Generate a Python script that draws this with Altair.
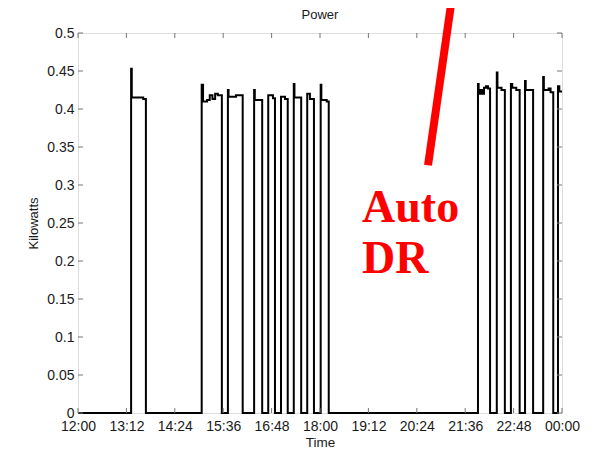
import altair as alt
import pandas as pd

# ---- data (minutes after 12:00, kilowatts) ----
pulse_minutes = [
    [79, 80, 97, 101],
    [184, 186, 192, 196, 200, 204, 208, 214],
    [223, 224, 235, 245],
    [262, 263, 274],
    [283, 290, 293],
    [302, 308, 312],
    [321, 322, 332],
    [341, 345, 351],
    [361, 362, 370, 373],
    [595, 596, 598, 601, 604, 607, 610, 613],
    [623, 624, 630, 635],
    [644, 646, 652, 657],
    [665, 666, 677],
    [692, 693, 700, 703, 707],
    [714, 716, 720],
]
pulse_kw = [
    [0.453, 0.415, 0.413, 0.0],
    [0.432, 0.410, 0.412, 0.418, 0.413, 0.420, 0.418, 0.0],
    [0.425, 0.416, 0.418, 0.0],
    [0.425, 0.412, 0.0],
    [0.418, 0.414, 0.0],
    [0.416, 0.413, 0.0],
    [0.433, 0.415, 0.0],
    [0.420, 0.413, 0.0],
    [0.432, 0.412, 0.410, 0.0],
    [0.433, 0.420, 0.425, 0.420, 0.428, 0.430, 0.427, 0.0],
    [0.448, 0.428, 0.425, 0.0],
    [0.433, 0.428, 0.425, 0.0],
    [0.437, 0.425, 0.0],
    [0.442, 0.425, 0.427, 0.422, 0.0],
    [0.430, 0.423, 0.423],
]

x_tick_minutes = [0, 72, 144, 216, 288, 360, 432, 504, 576, 648, 720]
x_tick_labels = ["12:00", "13:12", "14:24", "15:36", "16:48", "18:00",
                 "19:12", "20:24", "21:36", "22:48", "00:00"]
y_tick_values = [0, 0.05, 0.1, 0.15, 0.2, 0.25, 0.3, 0.35, 0.4, 0.45, 0.5]
y_tick_labels = ["0", "0.05", "0.1", "0.15", "0.2", "0.25", "0.3",
                 "0.35", "0.4", "0.45", "0.5"]

# annotation (red pointer line and text), in data coordinates
pointer_minutes = [558.6, 520.7]
pointer_kw = [0.5605, 0.326]
note_labels = ["Auto", "DR"]
note_minutes = [422.5, 422.5]
note_kw = [0.251, 0.184]
chart_title = "Power"

# ---- build tables ----
mins = [0]
kws = [0.0]
for tt, vv in zip(pulse_minutes, pulse_kw):
    mins.extend(tt)
    kws.extend(vv)
power = pd.DataFrame({"minute": mins, "kw": kws})

W, H = 484, 380
FONT = "Liberation Sans"
BOX = "#777777"
TXT = "#1a1a1a"

xlab = "[" + ",".join(f"'{s}'" for s in x_tick_labels) + "]"
ylab = "[" + ",".join(f"'{s}'" for s in y_tick_labels) + "]"

x_scale = alt.Scale(domain=[0, 720], nice=False, zero=False)
y_scale = alt.Scale(domain=[0, 0.5], nice=False)

x_axis = alt.Axis(values=x_tick_minutes, labelExpr=f"{xlab}[round(datum.value/72)]",
                  ticks=False, domain=False, grid=False, labelPadding=6,
                  labelFontSize=14, labelFont=FONT, labelColor=TXT,
                  labelFlush=False, labelOverlap=False,
                  title="Time", titleFont=FONT, titleFontSize=13.5, titleFontWeight="normal",
                  titleColor=TXT, titleY=33, titleBaseline="alphabetic")
y_axis = alt.Axis(values=y_tick_values, labelExpr=f"{ylab}[round(datum.value/0.05)]",
                  ticks=False, domain=False, grid=False, labelPadding=4,
                  labelFontSize=14, labelFont=FONT, labelColor=TXT,
                  labelFlush=False, labelOverlap=False,
                  title="Kilowatts", titleFont=FONT, titleFontSize=13, titleFontWeight="normal",
                  titleColor=TXT, titleX=-45, titleY=190, titleAngle=270,
                  titleAlign="center", titleBaseline="middle")


def X():
    return alt.X("minute:Q", scale=x_scale, axis=x_axis)


def Y():
    return alt.Y("kw:Q", scale=y_scale, axis=y_axis)


line = alt.Chart(power).mark_line(interpolate="step-after", color="black",
                                  strokeWidth=2).encode(x=X(), y=Y())

xt = pd.DataFrame({"minute": x_tick_minutes})
yt = pd.DataFrame({"kw": y_tick_values})
TL = 5
ticks_bottom = alt.Chart(xt).mark_rule(color=BOX, strokeWidth=1).encode(
    x=X(), y=alt.value(H), y2=alt.value(H - TL))
ticks_top = alt.Chart(xt).mark_rule(color=BOX, strokeWidth=1).encode(
    x=X(), y=alt.value(0), y2=alt.value(TL))
ticks_left = alt.Chart(yt).mark_rule(color=BOX, strokeWidth=1).encode(
    y=Y(), x=alt.value(0), x2=alt.value(TL))
ticks_right = alt.Chart(yt).mark_rule(color=BOX, strokeWidth=1).encode(
    y=Y(), x=alt.value(W), x2=alt.value(W - TL))

pointer = alt.Chart(pd.DataFrame({"minute": pointer_minutes, "kw": pointer_kw})).mark_line(
    color="#ff0000", strokeWidth=8, strokeCap="butt").encode(x=X(), y=Y())

note = alt.Chart(pd.DataFrame({"minute": note_minutes, "kw": note_kw, "label": note_labels})).mark_text(
    color="#ff0000", font="Liberation Serif", fontWeight="bold", fontSize=46,
    align="left", baseline="alphabetic").encode(x=X(), y=Y(), text="label:N")

title = alt.Chart(pd.DataFrame({"t": [chart_title]})).mark_text(
    font=FONT, fontSize=13, color=TXT, align="center", baseline="alphabetic").encode(
    x=alt.value(W / 2), y=alt.value(-14), text="t:N")

chart = alt.layer(line, ticks_bottom, ticks_top, ticks_left, ticks_right,
                  pointer, note, title).properties(
    width=W, height=H,
    autosize=alt.AutoSizeParams(type="none"),
    padding={"left": 70, "top": 25, "right": 20, "bottom": 36},
).configure_view(stroke=BOX, strokeWidth=1).configure(background="white")

chart.save("out.html", embed_options={"renderer": "svg", "actions": False})
